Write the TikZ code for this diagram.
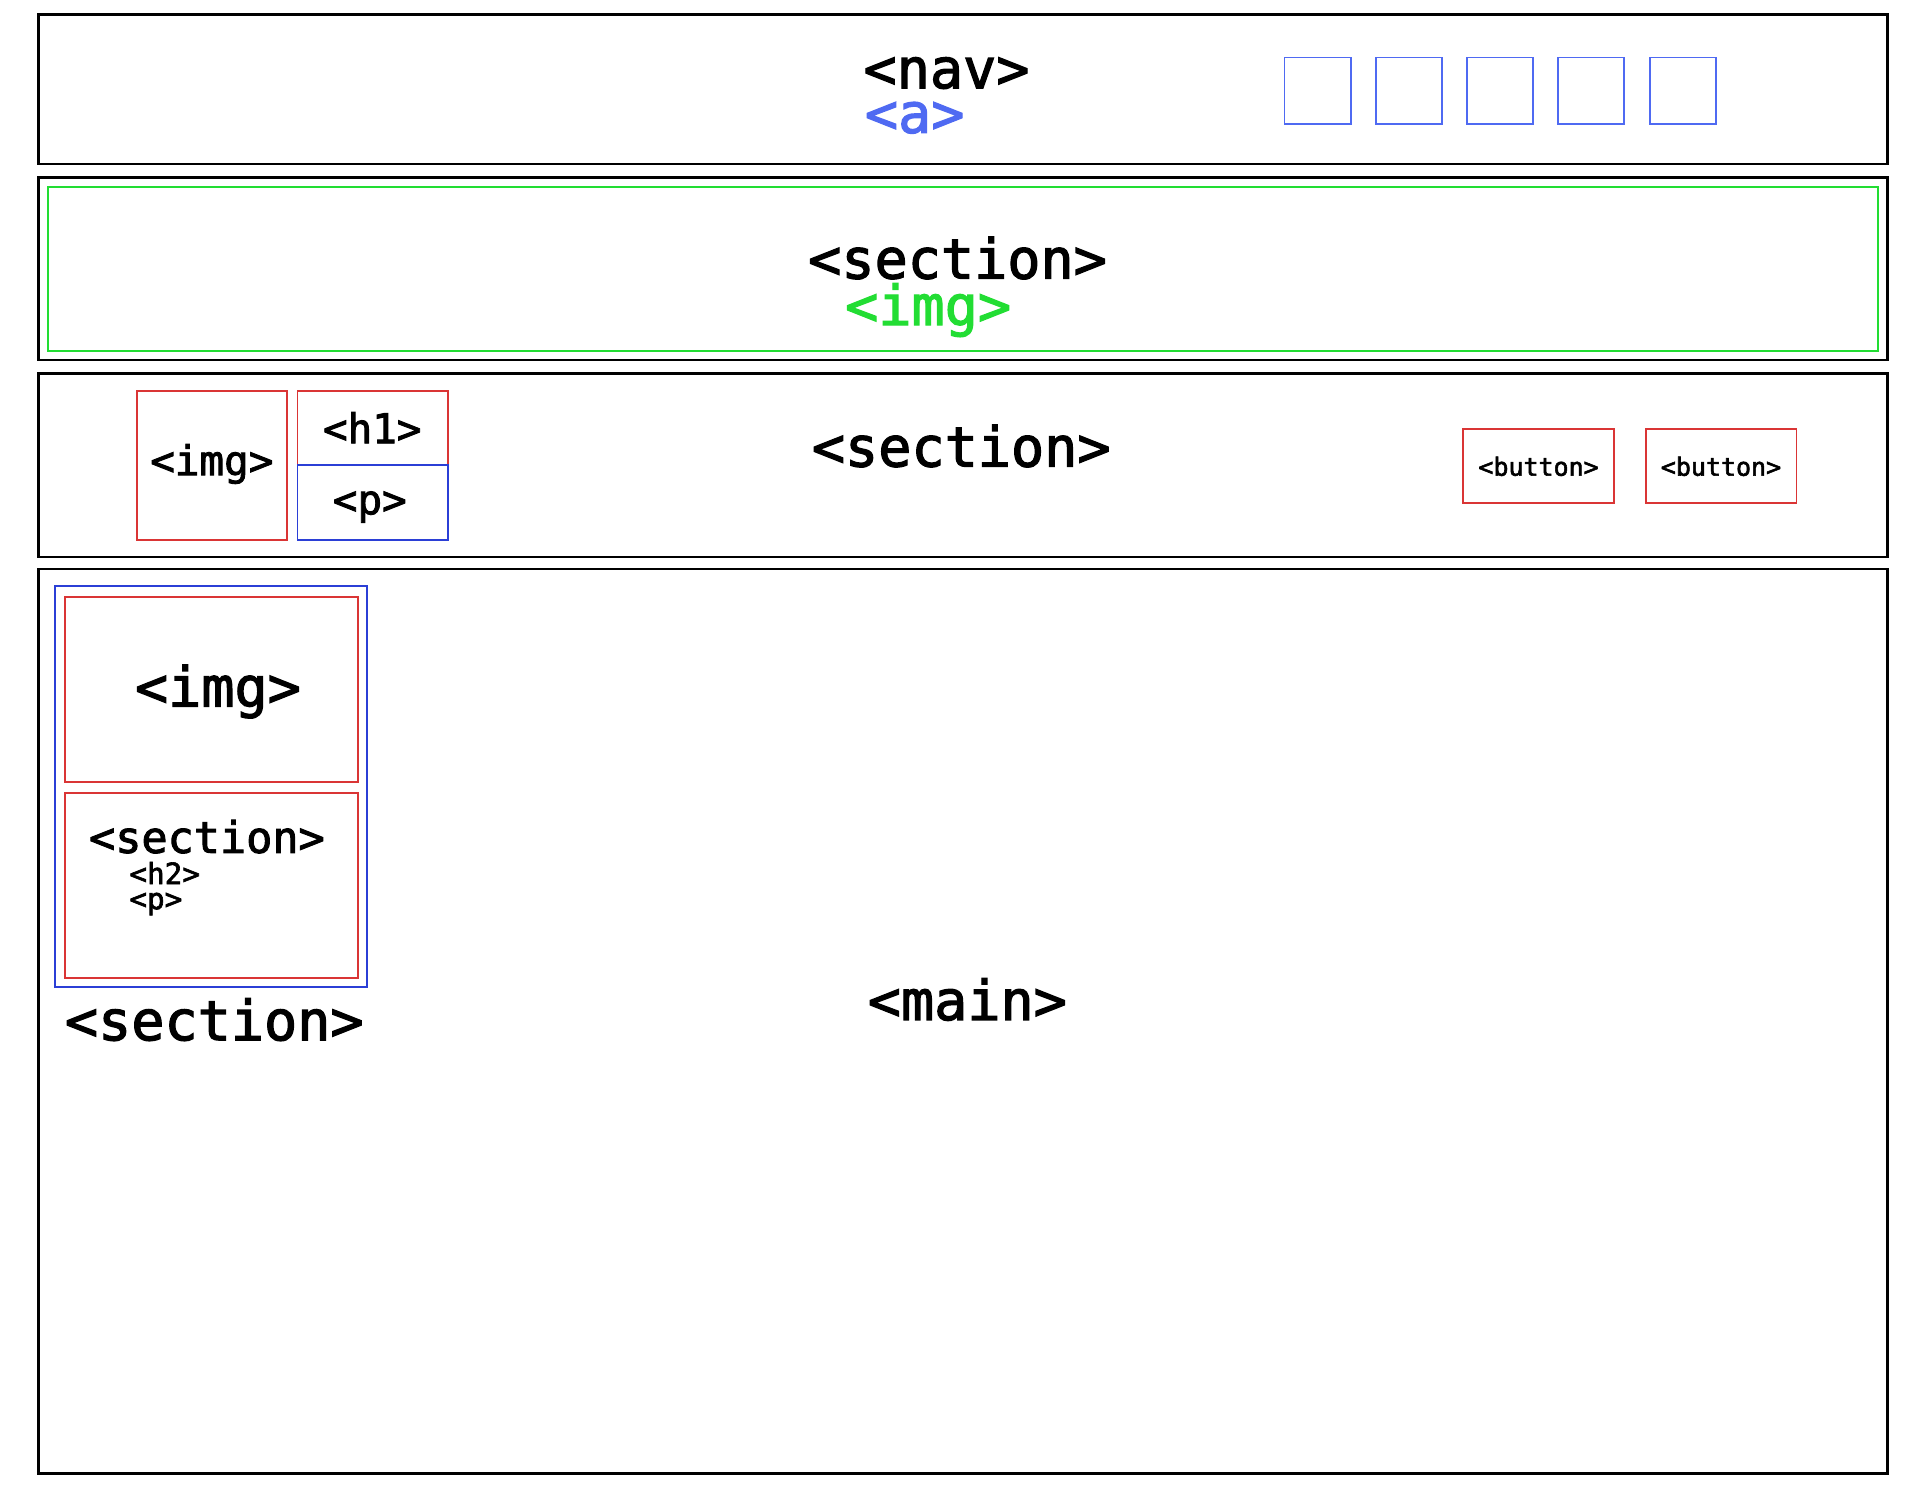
\documentclass[tikz,border=0pt]{standalone}
\usepackage{fontspec}
\newfontfamily\mono[FakeBold=2.2]{DejaVu Sans Mono}
\definecolor{linkblue}{HTML}{4F6AF2}
\definecolor{boxblue}{HTML}{2B3FD6}
\definecolor{boxred}{HTML}{DA3535}
\definecolor{imggreen}{HTML}{22DD33}
\tikzset{
  band/.style={draw=black, line width=0.6pt, rectangle, minimum width=15.09cm},
  redbox/.style={draw=boxred, line width=0.45pt, rectangle},
  bluebox/.style={draw=boxblue, line width=0.45pt, rectangle},
  linkbox/.style={draw=linkblue, line width=0.45pt, rectangle, minimum width=0.54cm, minimum height=0.54cm},
  bigtag/.style={inner sep=0pt, anchor=base, font=\mono\fontsize{12.8pt}{14pt}\selectfont},
  midtag/.style={inner sep=0pt, anchor=base, font=\mono\fontsize{9.5pt}{11pt}\selectfont},
  smalltag/.style={inner sep=0pt, anchor=base west, font=\mono\fontsize{6.8pt}{8pt}\selectfont},
  btntag/.style={inner sep=0pt, anchor=base, font=\mono\fontsize{5.8pt}{7pt}\selectfont},
}
\begin{document}
\begin{tikzpicture}[x=0.01cm, y=-0.01cm]
\useasboundingbox (0,0) rectangle (1568,1225);
% page bands
\node (nav) [band, minimum height=1.22cm] at (786.5,73) {};
\node (hero) [band, minimum height=1.49cm] at (786.5,219.5) {};
\node (heroimg) [draw=imggreen, line width=0.45pt, rectangle, minimum width=14.93cm, minimum height=1.34cm] at (786.5,220) {};
\node (intro) [band, minimum height=1.50cm] at (786.5,380) {};
\node (main) [band, minimum height=7.38cm] at (786.5,834) {};

% nav links
\node (link1) [linkbox] at (1076,74) {};
\node (link2) [linkbox, right of=link1, node distance=0.745cm] {};
\node (link3) [linkbox, right of=link2, node distance=0.745cm] {};
\node (link4) [linkbox, right of=link3, node distance=0.745cm] {};
\node (link5) [linkbox, right of=link4, node distance=0.745cm] {};
\node (navtag) [bigtag] at (773,72) {<nav>};
\node (atag) [bigtag, text=linkblue] at (747,108.5) {<a>};

% hero
\node (herotag) [bigtag] at (782,227.5) {<section>};
\node (heroimgtag) [bigtag, text=imggreen] at (758,265.5) {<img>};

% intro section
\node (introimg) [redbox, minimum width=1.22cm, minimum height=1.22cm] at (173,380) {};
\node (introh) [redbox, minimum width=1.23cm, minimum height=0.61cm] at (304.5,349.5) {};
\node (introp) [bluebox, minimum width=1.23cm, minimum height=0.61cm, below of=introh, node distance=0.61cm] {};
\node (introimgtag) [midtag] at (173,388) {<img>};
\node (introhtag) [midtag] at (304,362) {<h1>};
\node (introptag) [midtag] at (302,420) {<p>};
\node (introtag) [bigtag] at (785,381) {<section>};
\node (btn1) [redbox, minimum width=1.23cm, minimum height=0.61cm] at (1256.5,380.5) {};
\node (btn2) [redbox, minimum width=1.23cm, minimum height=0.61cm, right of=btn1, node distance=1.49cm] {};
\node (btn1tag) [btntag] at (1256.5,388.5) {<button>};
\node (btn2tag) [btntag] at (1405.5,388.5) {<button>};

% main with card
\node (card) [bluebox, minimum width=2.55cm, minimum height=3.27cm] at (172.5,642.5) {};
\node (cardimg) [redbox, minimum width=2.39cm, minimum height=1.51cm] at (173,563) {};
\node (cardbody) [redbox, minimum width=2.39cm, minimum height=1.51cm] at (173,723) {};
\node (cardimgtag) [bigtag] at (178,577) {<img>};
\node (cardtag) [inner sep=0pt, anchor=base, font=\mono\fontsize{10.1pt}{12pt}\selectfont] at (169,696.5) {<section>};
\node (cardh) [smalltag] at (105,722) {<h2>};
\node (cardp) [smalltag] at (105,742.5) {<p>};
\node (cardlabel) [bigtag] at (175,849.5) {<section>};
\node (maintag) [bigtag] at (790,833) {<main>};
\end{tikzpicture}
\end{document}
